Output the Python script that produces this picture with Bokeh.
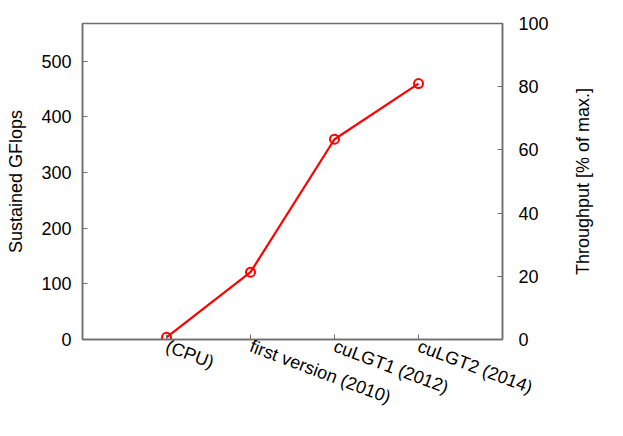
import math
from bokeh.plotting import figure
from bokeh.models import Range1d, LinearAxis, FixedTicker, Label
from bokeh.embed import file_html
from bokeh.resources import INLINE

categories = ["(CPU)", "first version (2010)", "cuLGT1 (2012)", "cuLGT2 (2014)"]
gflops = [4, 121, 360, 460]
left_ticks = [0, 100, 200, 300, 400, 500]
right_ticks = [0, 20, 40, 60, 80, 100]
left_max = 568
right_max = 100

xs = list(range(1, len(categories) + 1))

FONT = "Liberation Sans"
GRAY = "#6e6e6e"

p = figure(width=607, height=420, output_backend="svg", toolbar_location=None,
           x_range=Range1d(0, len(categories) + 1), y_range=Range1d(0, left_max),
           min_border_left=82, min_border_right=105, min_border_top=23, min_border_bottom=81)
p.xgrid.visible = False
p.ygrid.visible = False
p.outline_line_color = GRAY
p.outline_line_width = 1.5
p.background_fill_color = "white"
p.border_fill_color = "white"

p.extra_y_ranges = {"pct": Range1d(0, right_max)}
ax_r = LinearAxis(y_range_name="pct")
p.add_layout(ax_r, "right")

for ax in [p.xaxis[0], p.yaxis[0], ax_r]:
    ax.axis_line_color = GRAY
    ax.axis_line_width = 1.5
    ax.major_tick_line_color = GRAY
    ax.major_tick_line_width = 1
    ax.major_tick_out = 0
    ax.major_tick_in = 5
    ax.minor_tick_line_color = None
    ax.major_label_text_font = FONT
    ax.major_label_text_font_size = "18px"
    ax.major_label_text_color = "black"
    ax.axis_label_text_font = FONT
    ax.axis_label_text_font_size = "18px"
    ax.axis_label_text_font_style = "normal"
    ax.axis_label_text_color = "black"

p.yaxis[0].axis_label = "Sustained GFlops"
p.yaxis[0].ticker = FixedTicker(ticks=left_ticks)
p.yaxis[0].major_label_standoff = 11
p.yaxis[0].axis_label_standoff = 12
ax_r.ticker = FixedTicker(ticks=right_ticks)
ax_r.major_label_standoff = 16

# right axis title, reading bottom-to-top like the reference (placed in the right panel)
p.add_layout(Label(x=len(categories) + 1, y=left_max / 2, x_offset=80,
                   text="Throughput [% of max.]", angle=math.pi / 2,
                   text_align="center", text_baseline="middle",
                   text_font=FONT, text_font_size="18px", text_color="black"), "right")

xa = p.xaxis[0]
xa.ticker = FixedTicker(ticks=xs)
xa.major_label_overrides = {x: c for x, c in zip(xs, categories)}
xa.major_label_orientation = -0.36
xa.major_label_standoff = 6

p.line(xs, gflops, line_color="#ff0000", line_width=2.2)
p.scatter(xs, gflops, marker="circle", size=9, fill_color=None,
          line_color="#ff0000", line_width=2)

open("out.html", "w").write(file_html(p, INLINE))
